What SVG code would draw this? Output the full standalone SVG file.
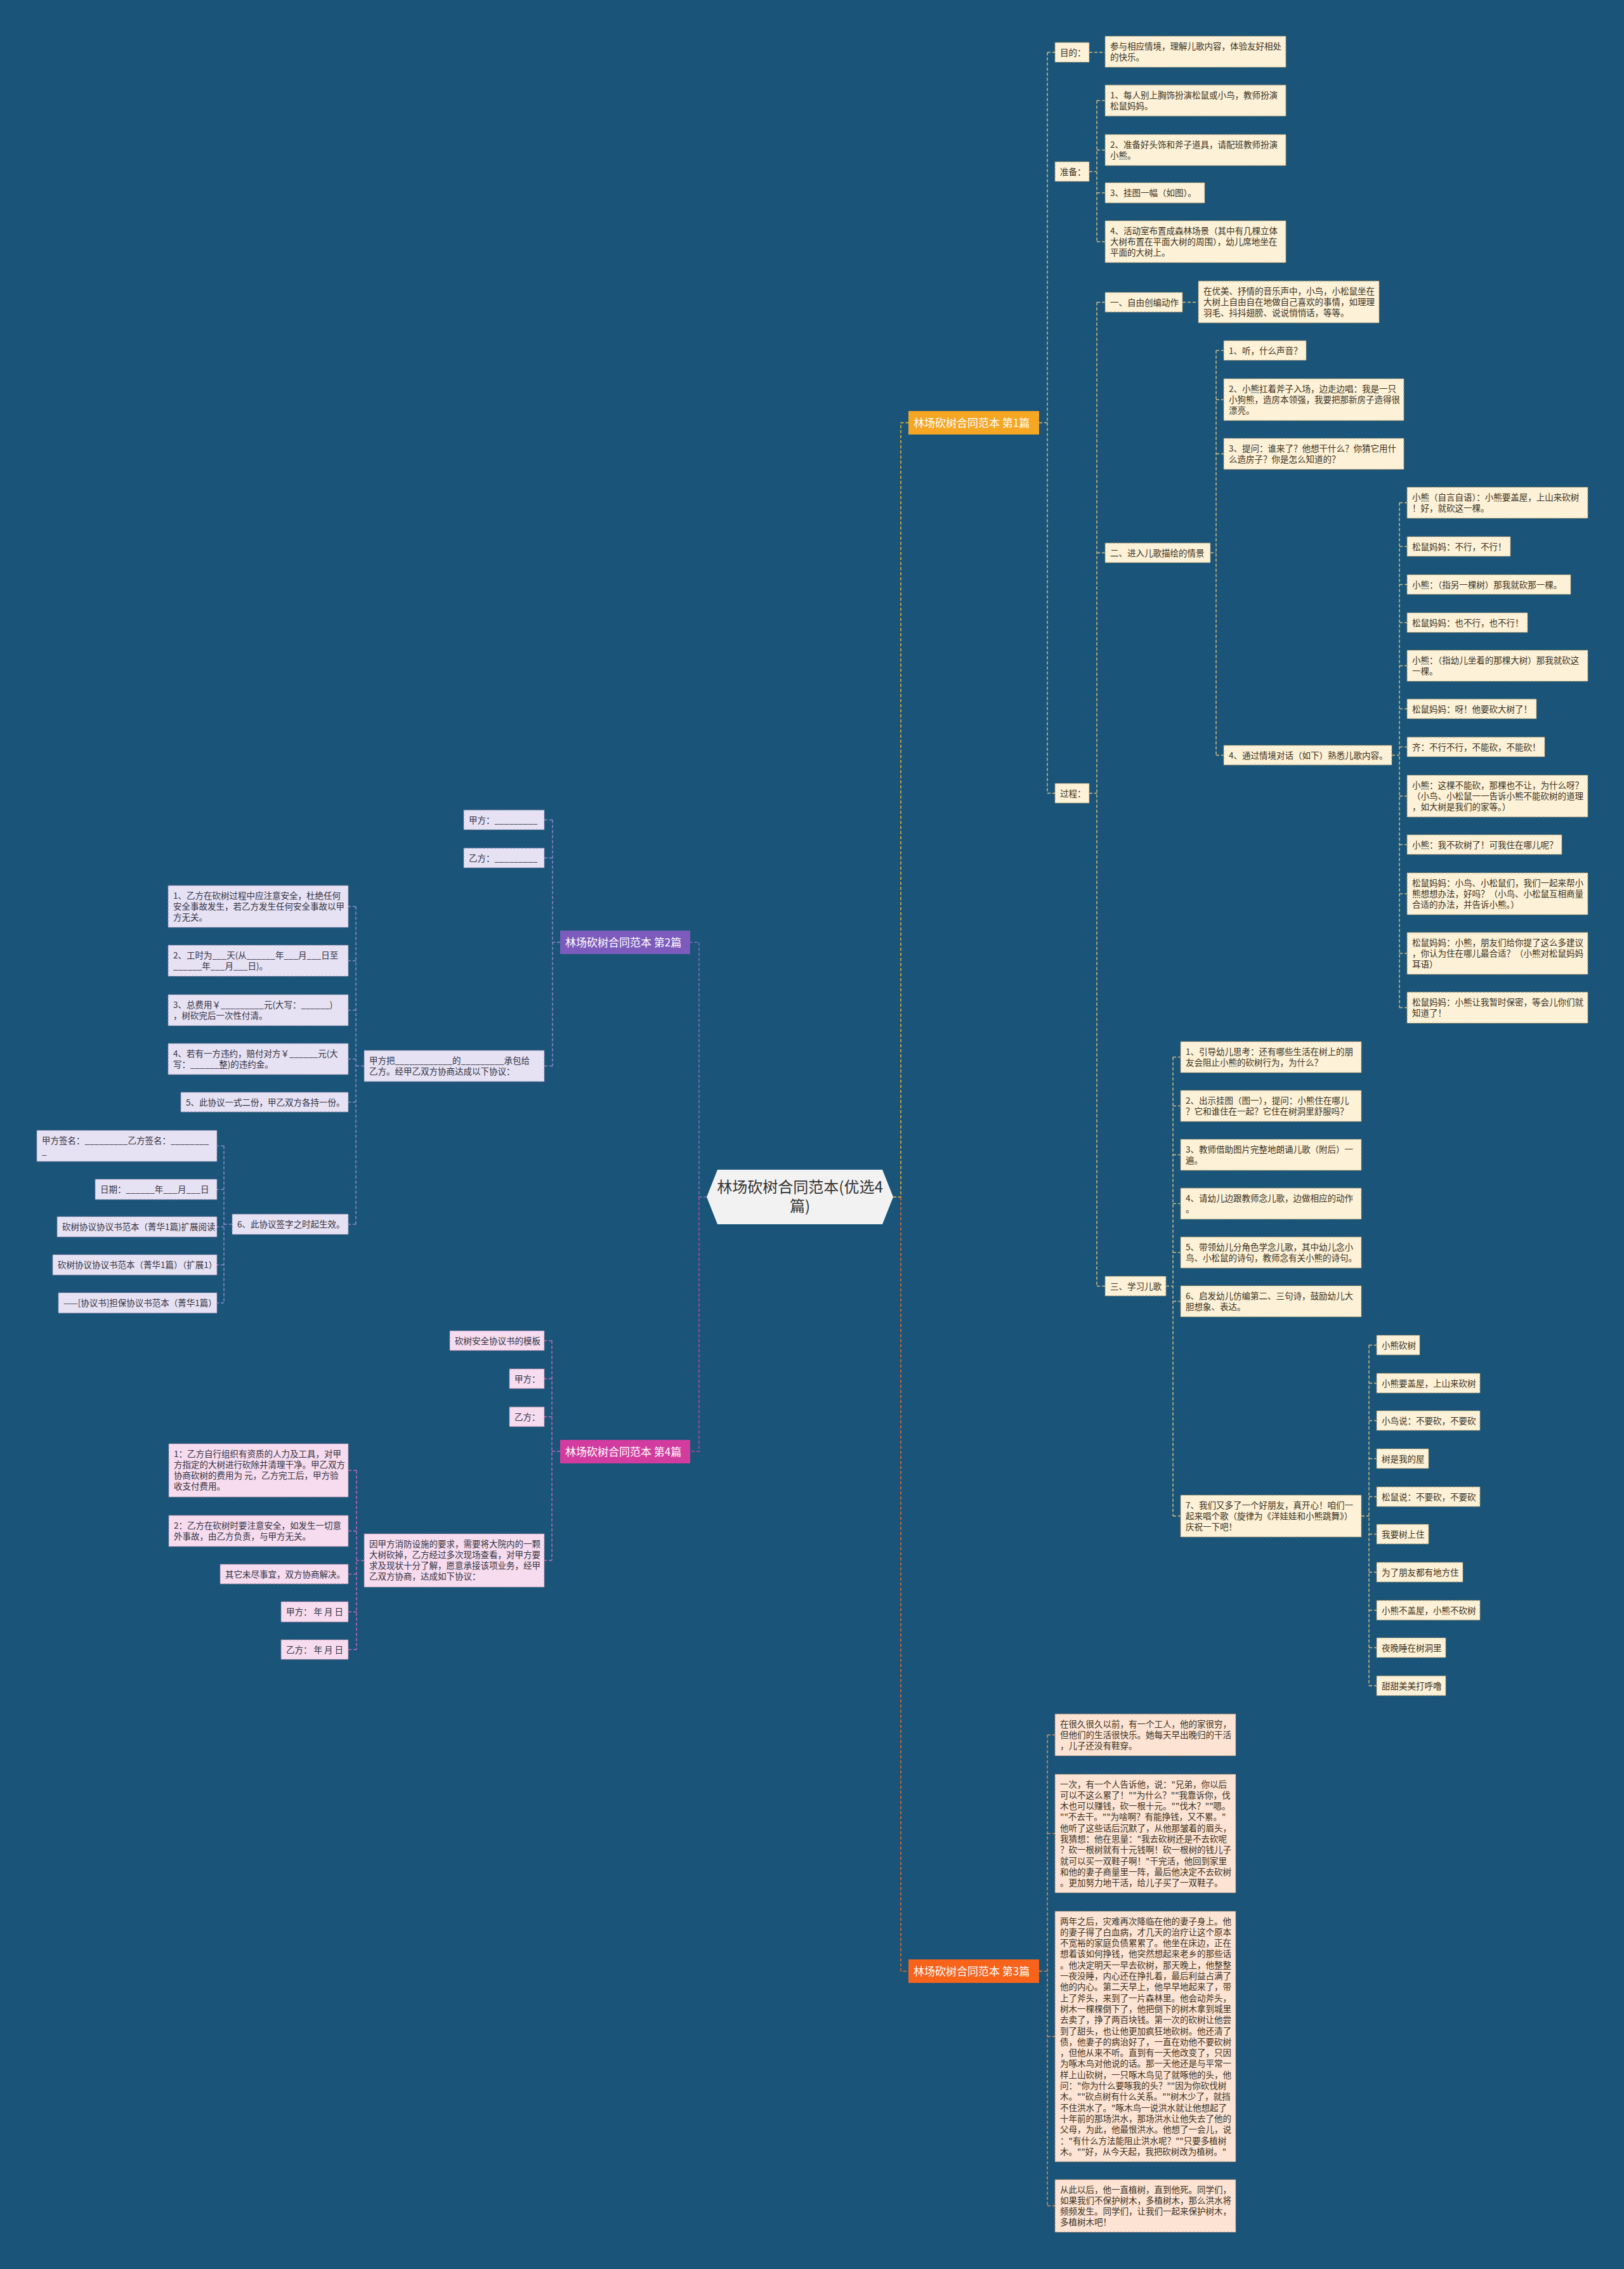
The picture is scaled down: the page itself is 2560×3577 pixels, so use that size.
<svg xmlns="http://www.w3.org/2000/svg" width="2560" height="3577" viewBox="0 0 2560 3577">
<style>
.t{font-family:"Noto Sans CJK SC","Liberation Sans",sans-serif;font-size:13.5px;fill:#3b3222}
.t2{font-family:"Noto Sans CJK SC","Liberation Sans",sans-serif;font-size:13.5px;fill:#333344}
.bt{font-family:"Noto Sans CJK SC","Liberation Sans",sans-serif;font-size:17px;fill:#ffffff}
.n1{fill:#fdf1d7;stroke:#9c8a62;stroke-width:1;stroke-dasharray:4 2}
.n3{fill:#fde3d3;stroke:#a07a66;stroke-width:1;stroke-dasharray:4 2}
.n2{fill:#e7e2f3;stroke:#8a84a8;stroke-width:1;stroke-dasharray:4 2}
.n4{fill:#f6dcee;stroke:#a07a9a;stroke-width:1;stroke-dasharray:4 2}
.c{fill:none;stroke-width:1.5;stroke-dasharray:5 3}
.c1{stroke:#d2bc84}
.c3{stroke:#d98c5c}
.c2{stroke:#9088cc}
.c4{stroke:#c06ab4}
</style>
<rect x="0" y="0" width="2560" height="3577" fill="#1a5478"/>

<g id="connectors">
  <path class="c" stroke="#f0b830" d="M1408,1887 H1420 V666.5 H1432"/>
  <path class="c" stroke="#f26a24" d="M1420,1887 V3107.5 H1432"/>
  <path class="c" stroke="#8a6cc8" d="M1114,1887 H1102 V1485.5 H1088"/>
  <path class="c" stroke="#d040a0" d="M1102,1887 V2288 H1088"/>
  <!-- branch 1 -->
  <g class="c c1">
    <path d="M1638,666.5 H1651 M1651,82.5 V1250.5 M1651,82.5 H1663 M1651,1250.5 H1663"/>
    <path d="M1717,82.5 H1742"/>
    <path d="M1717,270.5 H1729 M1729,158.5 V381 M1729,158.5 H1742 M1729,236.5 H1742 M1729,304 H1742 M1729,381 H1742"/>
    <path d="M1717,1250.5 H1729 M1729,476.5 V2027.5 M1729,476.5 H1742 M1729,871.5 H1742 M1729,2027.5 H1742"/>
    <path d="M1864,476.5 H1889"/>
    <path d="M1908,871.5 H1917 M1917,552.5 V1190.5 M1917,552.5 H1929 M1917,630 H1929 M1917,715.5 H1929 M1917,1190.5 H1929"/>
    <path d="M2194,1190.5 H2206 M2206,792.5 V1588.5 M2206,792.5 H2218 M2206,861.5 H2218 M2206,921.5 H2218 M2206,981.5 H2218 M2206,1049.5 H2218 M2206,1117.5 H2218 M2206,1177.5 H2218 M2206,1255 H2218 M2206,1331.5 H2218 M2206,1409 H2218 M2206,1503 H2218 M2206,1588.5 H2218"/>
    <path d="M1838,2027.5 H1849 M1849,1666.5 V2390 M1849,1666.5 H1861 M1849,1743.5 H1861 M1849,1820.5 H1861 M1849,1897.5 H1861 M1849,1974.5 H1861 M1849,2051.5 H1861 M1849,2390 H1861"/>
    <path d="M2146,2390 H2158 M2158,2120.5 V2657.5 M2158,2120.5 H2170 M2158,2180.5 H2170 M2158,2239.5 H2170 M2158,2299.5 H2170 M2158,2359.5 H2170 M2158,2418.5 H2170 M2158,2478.5 H2170 M2158,2538.5 H2170 M2158,2597.5 H2170 M2158,2657.5 H2170"/>
  </g>
  <!-- branch 3 -->
  <g class="c c3">
    <path d="M1638,3107.5 H1651 M1651,2735 V3477.5 M1651,2735 H1663 M1651,2890.5 H1663 M1651,3210.5 H1663 M1651,3477.5 H1663"/>
  </g>
  <!-- branch 2 -->
  <g class="c c2">
    <path d="M883,1485.5 H871 M871,1292.5 V1680.5 M871,1292.5 H858 M871,1352.5 H858 M871,1680.5 H858"/>
    <path d="M574,1680.5 H561 M561,1429 V1930 M561,1429 H549 M561,1514.5 H549 M561,1592.5 H549 M561,1669.5 H549 M561,1737.5 H549 M561,1930 H549"/>
    <path d="M366,1930 H353 M353,1806.5 V2054 M353,1806.5 H342 M353,1875 H342 M353,1934 H342 M353,1994 H342 M353,2054 H342"/>
  </g>
  <!-- branch 4 -->
  <g class="c c4">
    <path d="M883,2288 H870 M870,2113.5 V2460 M870,2113.5 H858 M870,2173.5 H858 M870,2233.5 H858 M870,2460 H858"/>
    <path d="M574,2460 H562 M562,2318 V2600.5 M562,2318 H549 M562,2413.5 H549 M562,2481.5 H549 M562,2541 H549 M562,2600.5 H549"/>
  </g>
</g>

<g id="root">
  <polygon points="1114,1887 1131,1844 1391,1844 1408,1887 1391,1930 1131,1930" fill="#f2f2f2"/>
  <text x="1261" y="1880" text-anchor="middle" font-family="Noto Sans CJK SC, Liberation Sans, sans-serif" font-size="24" fill="#333">林场砍树合同范本(优选4</text>
  <text x="1261" y="1910" text-anchor="middle" font-family="Noto Sans CJK SC, Liberation Sans, sans-serif" font-size="24" fill="#333">篇)</text>
</g>

<g id="b1"><rect x="1432" y="648" width="206" height="37" fill="#f5a623"/><text class="bt" x="1440" y="672.5">林场砍树合同范本 第1篇</text></g>
<g id="b3"><rect x="1432" y="3089" width="206" height="37" fill="#f7631b"/><text class="bt" x="1440" y="3113.5">林场砍树合同范本 第3篇</text></g>
<g id="b2"><rect x="883" y="1467" width="205" height="37" fill="#7d5bbd"/><text class="bt" x="891" y="1491.5">林场砍树合同范本 第2篇</text></g>
<g id="b4"><rect x="883" y="2270" width="205" height="37" fill="#d23c9e"/><text class="bt" x="891" y="2294.5">林场砍树合同范本 第4篇</text></g>

<!-- branch 1 nodes -->
<g id="mudi"><rect class="n1" x="1663" y="67" width="54" height="31"/><text class="t" x="1671" y="87.5">目的：</text></g>
<g id="mudi-t"><rect class="n1" x="1742" y="57" width="285" height="49"/><text class="t" x="1750" y="77.5"><tspan x="1750">参与相应情境，理解儿歌内容，体验友好相处</tspan><tspan x="1750" dy="17.3">的快乐。</tspan></text></g>
<g id="zhunbei"><rect class="n1" x="1663" y="255" width="54" height="31"/><text class="t" x="1671" y="275.5">准备：</text></g>
<g id="zb1"><rect class="n1" x="1742" y="134" width="285" height="49"/><text class="t" x="1750" y="154.5"><tspan x="1750">1、每人别上胸饰扮演松鼠或小鸟，教师扮演</tspan><tspan x="1750" dy="17.3">松鼠妈妈。</tspan></text></g>
<g id="zb2"><rect class="n1" x="1742" y="212" width="285" height="49"/><text class="t" x="1750" y="232.5"><tspan x="1750">2、准备好头饰和斧子道具，请配班教师扮演</tspan><tspan x="1750" dy="17.3">小熊。</tspan></text></g>
<g id="zb3"><rect class="n1" x="1742" y="288" width="157" height="32"/><text class="t" x="1750" y="308.5">3、挂图一幅（如图）。</text></g>
<g id="zb4"><rect class="n1" x="1742" y="348" width="285" height="66"/><text class="t" x="1750" y="368.5"><tspan x="1750">4、活动室布置成森林场景（其中有几棵立体</tspan><tspan x="1750" dy="17.3">大树布置在平面大树的周围），幼儿席地坐在</tspan><tspan x="1750" dy="17.3">平面的大树上。</tspan></text></g>
<g id="guocheng"><rect class="n1" x="1663" y="1235" width="54" height="31"/><text class="t" x="1671" y="1255.5">过程：</text></g>
<g id="gc1"><rect class="n1" x="1742" y="461" width="122" height="31"/><text class="t" x="1750" y="481.5">一、自由创编动作</text></g>
<g id="gc1-t"><rect class="n1" x="1889" y="443" width="285" height="66"/><text class="t" x="1897" y="463.5"><tspan x="1897">在优美、抒情的音乐声中，小鸟，小松鼠坐在</tspan><tspan x="1897" dy="17.3">大树上自由自在地做自己喜欢的事情，如理理</tspan><tspan x="1897" dy="17.3">羽毛、抖抖翅膀、说说悄悄话，等等。</tspan></text></g>
<g id="gc2"><rect class="n1" x="1742" y="856" width="166" height="31"/><text class="t" x="1750" y="876.5">二、进入儿歌描绘的情景</text></g>
<g id="gc2-1"><rect class="n1" x="1929" y="537" width="130" height="31"/><text class="t" x="1937" y="557.5">1、听，什么声音？</text></g>
<g id="gc2-2"><rect class="n1" x="1929" y="597" width="284" height="66"/><text class="t" x="1937" y="617.5"><tspan x="1937">2、小熊扛着斧子入场，边走边唱：我是一只</tspan><tspan x="1937" dy="17.3">小狗熊，造房本领强，我要把那新房子造得很</tspan><tspan x="1937" dy="17.3">漂亮。</tspan></text></g>
<g id="gc2-3"><rect class="n1" x="1929" y="691" width="284" height="49"/><text class="t" x="1937" y="711.5"><tspan x="1937">3、提问：谁来了？他想干什么？你猜它用什</tspan><tspan x="1937" dy="17.3">么造房子？你是怎么知道的？</tspan></text></g>
<g id="gc2-4"><rect class="n1" x="1929" y="1175" width="265" height="31"/><text class="t" x="1937" y="1195.5">4、通过情境对话（如下）熟悉儿歌内容。</text></g>

<g id="d1"><rect class="n1" x="2218" y="768" width="285" height="49"/><text class="t" x="2226" y="788.5"><tspan x="2226">小熊（自言自语）：小熊要盖屋，上山来砍树</tspan><tspan x="2226" dy="17.3">！好，就砍这一棵。</tspan></text></g>
<g id="d2"><rect class="n1" x="2218" y="846" width="163" height="31"/><text class="t" x="2226" y="866.5">松鼠妈妈：不行，不行！</text></g>
<g id="d3"><rect class="n1" x="2218" y="906" width="258" height="31"/><text class="t" x="2226" y="926.5">小熊：（指另一棵树）那我就砍那一棵。</text></g>
<g id="d4"><rect class="n1" x="2218" y="966" width="190" height="31"/><text class="t" x="2226" y="986.5">松鼠妈妈：也不行，也不行！</text></g>
<g id="d5"><rect class="n1" x="2218" y="1025" width="285" height="49"/><text class="t" x="2226" y="1045.5"><tspan x="2226">小熊：（指幼儿坐着的那棵大树）那我就砍这</tspan><tspan x="2226" dy="17.3">一棵。</tspan></text></g>
<g id="d6"><rect class="n1" x="2218" y="1102" width="204" height="31"/><text class="t" x="2226" y="1122.5">松鼠妈妈：呀！他要砍大树了！</text></g>
<g id="d7"><rect class="n1" x="2218" y="1162" width="217" height="31"/><text class="t" x="2226" y="1182.5">齐：不行不行，不能砍，不能砍！</text></g>
<g id="d8"><rect class="n1" x="2218" y="1222" width="285" height="66"/><text class="t" x="2226" y="1242.5"><tspan x="2226">小熊：这棵不能砍，那棵也不让，为什么呀？</tspan><tspan x="2226" dy="17.3">（小鸟、小松鼠一一告诉小熊不能砍树的道理</tspan><tspan x="2226" dy="17.3">，如大树是我们的家等。）</tspan></text></g>
<g id="d9"><rect class="n1" x="2218" y="1316" width="244" height="31"/><text class="t" x="2226" y="1336.5">小熊：我不砍树了！可我住在哪儿呢？</text></g>
<g id="d10"><rect class="n1" x="2218" y="1376" width="285" height="66"/><text class="t" x="2226" y="1396.5"><tspan x="2226">松鼠妈妈：小鸟、小松鼠们，我们一起来帮小</tspan><tspan x="2226" dy="17.3">熊想想办法，好吗？（小鸟、小松鼠互相商量</tspan><tspan x="2226" dy="17.3">合适的办法，并告诉小熊。）</tspan></text></g>
<g id="d11"><rect class="n1" x="2218" y="1470" width="285" height="66"/><text class="t" x="2226" y="1490.5"><tspan x="2226">松鼠妈妈：小熊，朋友们给你提了这么多建议</tspan><tspan x="2226" dy="17.3">，你认为住在哪儿最合适？（小熊对松鼠妈妈</tspan><tspan x="2226" dy="17.3">耳语）</tspan></text></g>
<g id="d12"><rect class="n1" x="2218" y="1564" width="285" height="49"/><text class="t" x="2226" y="1584.5"><tspan x="2226">松鼠妈妈：小熊让我暂时保密，等会儿你们就</tspan><tspan x="2226" dy="17.3">知道了！</tspan></text></g>

<g id="gc3"><rect class="n1" x="1742" y="2012" width="96" height="31"/><text class="t" x="1750" y="2032.5">三、学习儿歌</text></g>
<g id="gc3-1"><rect class="n1" x="1861" y="1642" width="285" height="49"/><text class="t" x="1869" y="1662.5"><tspan x="1869">1、引导幼儿思考：还有哪些生活在树上的朋</tspan><tspan x="1869" dy="17.3">友会阻止小熊的砍树行为，为什么？</tspan></text></g>
<g id="gc3-2"><rect class="n1" x="1861" y="1719" width="285" height="49"/><text class="t" x="1869" y="1739.5"><tspan x="1869">2、出示挂图（图一），提问：小熊住在哪儿</tspan><tspan x="1869" dy="17.3">？它和谁住在一起？它住在树洞里舒服吗？</tspan></text></g>
<g id="gc3-3"><rect class="n1" x="1861" y="1796" width="285" height="49"/><text class="t" x="1869" y="1816.5"><tspan x="1869">3、教师借助图片完整地朗诵儿歌（附后）一</tspan><tspan x="1869" dy="17.3">遍。</tspan></text></g>
<g id="gc3-4"><rect class="n1" x="1861" y="1873" width="285" height="49"/><text class="t" x="1869" y="1893.5"><tspan x="1869">4、请幼儿边跟教师念儿歌，边做相应的动作</tspan><tspan x="1869" dy="17.3">。</tspan></text></g>
<g id="gc3-5"><rect class="n1" x="1861" y="1950" width="285" height="49"/><text class="t" x="1869" y="1970.5"><tspan x="1869">5、带领幼儿分角色学念儿歌，其中幼儿念小</tspan><tspan x="1869" dy="17.3">鸟、小松鼠的诗句，教师念有关小熊的诗句。</tspan></text></g>
<g id="gc3-6"><rect class="n1" x="1861" y="2027" width="285" height="49"/><text class="t" x="1869" y="2047.5"><tspan x="1869">6、启发幼儿仿编第二、三句诗，鼓励幼儿大</tspan><tspan x="1869" dy="17.3">胆想象、表达。</tspan></text></g>
<g id="gc3-7"><rect class="n1" x="1861" y="2357" width="285" height="66"/><text class="t" x="1869" y="2377.5"><tspan x="1869">7、我们又多了一个好朋友，真开心！咱们一</tspan><tspan x="1869" dy="17.3">起来唱个歌（旋律为《洋娃娃和小熊跳舞》）</tspan><tspan x="1869" dy="17.3">庆祝一下吧！</tspan></text></g>

<g id="s1"><rect class="n1" x="2170" y="2105" width="68" height="31"/><text class="t" x="2178" y="2125.5">小熊砍树</text></g>
<g id="s2"><rect class="n1" x="2170" y="2165" width="163" height="31"/><text class="t" x="2178" y="2185.5">小熊要盖屋，上山来砍树</text></g>
<g id="s3"><rect class="n1" x="2170" y="2224" width="163" height="31"/><text class="t" x="2178" y="2244.5">小鸟说：不要砍，不要砍</text></g>
<g id="s4"><rect class="n1" x="2170" y="2284" width="82" height="31"/><text class="t" x="2178" y="2304.5">树是我的屋</text></g>
<g id="s5"><rect class="n1" x="2170" y="2344" width="163" height="31"/><text class="t" x="2178" y="2364.5">松鼠说：不要砍，不要砍</text></g>
<g id="s6"><rect class="n1" x="2170" y="2403" width="82" height="31"/><text class="t" x="2178" y="2423.5">我要树上住</text></g>
<g id="s7"><rect class="n1" x="2170" y="2463" width="136" height="31"/><text class="t" x="2178" y="2483.5">为了朋友都有地方住</text></g>
<g id="s8"><rect class="n1" x="2170" y="2523" width="163" height="31"/><text class="t" x="2178" y="2543.5">小熊不盖屋，小熊不砍树</text></g>
<g id="s9"><rect class="n1" x="2170" y="2582" width="109" height="31"/><text class="t" x="2178" y="2602.5">夜晚睡在树洞里</text></g>
<g id="s10"><rect class="n1" x="2170" y="2642" width="109" height="31"/><text class="t" x="2178" y="2662.5">甜甜美美打呼噜</text></g>

<!-- branch 3 nodes -->
<g id="e1"><rect class="n3" x="1663" y="2702" width="285" height="66"/><text class="t" x="1671" y="2722.5"><tspan x="1671">在很久很久以前，有一个工人，他的家很穷，</tspan><tspan x="1671" dy="17.3">但他们的生活很快乐。她每天早出晚归的干活</tspan><tspan x="1671" dy="17.3">，儿子还没有鞋穿。</tspan></text></g>
<g id="e2"><rect class="n3" x="1663" y="2797" width="285" height="187"/><text class="t" x="1671" y="2817.5"><tspan x="1671">一次，有一个人告诉他，说："兄弟，你以后</tspan><tspan x="1671" dy="17.3">可以不这么累了！""为什么？""我靠诉你，伐</tspan><tspan x="1671" dy="17.3">木也可以赚钱，砍一根十元。""伐木？""嗯。</tspan><tspan x="1671" dy="17.3">""不去干。""为啥啊？有能挣钱，又不累。"</tspan><tspan x="1671" dy="17.3">他听了这些话后沉默了，从他那皱着的眉头，</tspan><tspan x="1671" dy="17.3">我猜想：他在思量："我去砍树还是不去砍呢</tspan><tspan x="1671" dy="17.3">？砍一根树就有十元钱啊！砍一根树的钱儿子</tspan><tspan x="1671" dy="17.3">就可以买一双鞋子啊！"干完活，他回到家里</tspan><tspan x="1671" dy="17.3">和他的妻子商量里一阵，最后他决定不去砍树</tspan><tspan x="1671" dy="17.3">。更加努力地干活，给儿子买了一双鞋子。</tspan></text></g>
<g id="e3"><rect class="n3" x="1663" y="3013" width="285" height="395"/><text class="t" x="1671" y="3033.5"><tspan x="1671">两年之后，灾难再次降临在他的妻子身上。他</tspan><tspan x="1671" dy="17.3">的妻子得了白血病，才几天的治疗让这个原本</tspan><tspan x="1671" dy="17.3">不宽裕的家庭负债累累了。他坐在床边，正在</tspan><tspan x="1671" dy="17.3">想着该如何挣钱，他突然想起来老乡的那些话</tspan><tspan x="1671" dy="17.3">。他决定明天一早去砍树，那天晚上，他整整</tspan><tspan x="1671" dy="17.3">一夜没睡，内心还在挣扎着，最后利益占满了</tspan><tspan x="1671" dy="17.3">他的内心。第二天早上，他早早地起来了，带</tspan><tspan x="1671" dy="17.3">上了斧头，来到了一片森林里。他会动斧头，</tspan><tspan x="1671" dy="17.3">树木一棵棵倒下了，他把倒下的树木拿到城里</tspan><tspan x="1671" dy="17.3">去卖了，挣了两百块钱。第一次的砍树让他尝</tspan><tspan x="1671" dy="17.3">到了甜头，也让他更加疯狂地砍树。他还清了</tspan><tspan x="1671" dy="17.3">债，他妻子的病治好了，一直在劝他不要砍树</tspan><tspan x="1671" dy="17.3">，但他从来不听。直到有一天他改变了，只因</tspan><tspan x="1671" dy="17.3">为啄木鸟对他说的话。那一天他还是与平常一</tspan><tspan x="1671" dy="17.3">样上山砍树，一只啄木鸟见了就啄他的头，他</tspan><tspan x="1671" dy="17.3">问："你为什么要啄我的头？""因为你砍伐树</tspan><tspan x="1671" dy="17.3">木。""砍点树有什么关系。""树木少了，就挡</tspan><tspan x="1671" dy="17.3">不住洪水了。"啄木鸟一说洪水就让他想起了</tspan><tspan x="1671" dy="17.3">十年前的那场洪水，那场洪水让他失去了他的</tspan><tspan x="1671" dy="17.3">父母，为此，他最恨洪水。他想了一会儿，说</tspan><tspan x="1671" dy="17.3">："有什么方法能阻止洪水呢？""只要多植树</tspan><tspan x="1671" dy="17.3">木。""好，从今天起，我把砍树改为植树。"</tspan></text></g>
<g id="e4"><rect class="n3" x="1663" y="3436" width="285" height="83"/><text class="t" x="1671" y="3456.5"><tspan x="1671">从此以后，他一直植树，直到他死。同学们，</tspan><tspan x="1671" dy="17.3">如果我们不保护树木，多植树木，那么洪水将</tspan><tspan x="1671" dy="17.3">频频发生。同学们，让我们一起来保护树木，</tspan><tspan x="1671" dy="17.3">多植树木吧！</tspan></text></g>

<!-- branch 2 nodes -->
<g id="f1"><rect class="n2" x="731" y="1277" width="127" height="31"/><text class="t2" x="739" y="1297.5">甲方：_________</text></g>
<g id="f2"><rect class="n2" x="731" y="1337" width="127" height="31"/><text class="t2" x="739" y="1357.5">乙方：_________</text></g>
<g id="f3"><rect class="n2" x="574" y="1656" width="284" height="49"/><text class="t2" x="582" y="1676.5"><tspan x="582">甲方把____________的_________承包给</tspan><tspan x="582" dy="17.3">乙方。经甲乙双方协商达成以下协议：</tspan></text></g>
<g id="g1"><rect class="n2" x="265" y="1396" width="284" height="66"/><text class="t2" x="273" y="1416.5"><tspan x="273">1、乙方在砍树过程中应注意安全，杜绝任何</tspan><tspan x="273" dy="17.3">安全事故发生，若乙方发生任何安全事故以甲</tspan><tspan x="273" dy="17.3">方无关。</tspan></text></g>
<g id="g2"><rect class="n2" x="265" y="1490" width="284" height="49"/><text class="t2" x="273" y="1510.5"><tspan x="273">2、工时为___天(从______年___月___日至</tspan><tspan x="273" dy="17.3">______年___月___日)。</tspan></text></g>
<g id="g3"><rect class="n2" x="265" y="1568" width="284" height="49"/><text class="t2" x="273" y="1588.5"><tspan x="273">3、总费用￥_________元(大写：______)</tspan><tspan x="273" dy="17.3">，树砍完后一次性付清。</tspan></text></g>
<g id="g4"><rect class="n2" x="265" y="1645" width="284" height="49"/><text class="t2" x="273" y="1665.5"><tspan x="273">4、若有一方违约，赔付对方￥______元(大</tspan><tspan x="273" dy="17.3">写：______整)的违约金。</tspan></text></g>
<g id="g5"><rect class="n2" x="285" y="1722" width="264" height="31"/><text class="t2" x="293" y="1742.5">5、此协议一式二份，甲乙双方各持一份。</text></g>
<g id="g6"><rect class="n2" x="366" y="1914" width="183" height="32"/><text class="t2" x="374" y="1935">6、此协议签字之时起生效。</text></g>
<g id="h1"><rect class="n2" x="58" y="1782" width="284" height="49"/><text class="t2" x="66" y="1802.5"><tspan x="66">甲方签名：_________乙方签名：________</tspan><tspan x="66" dy="17.3">_</tspan></text></g>
<g id="h2"><rect class="n2" x="150" y="1859" width="192" height="32"/><text class="t2" x="158" y="1880">日期：______年___月___日</text></g>
<g id="h3"><rect class="n2" x="90" y="1918" width="252" height="32"/><text class="t2" x="98" y="1939">砍树协议协议书范本（菁华1篇)扩展阅读</text></g>
<g id="h4"><rect class="n2" x="83" y="1978" width="259" height="32"/><text class="t2" x="91" y="1999">砍树协议协议书范本（菁华1篇）（扩展1）</text></g>
<g id="h5"><rect class="n2" x="92" y="2038" width="250" height="32"/><text class="t2" x="100" y="2059">——[协议书]担保协议书范本（菁华1篇）</text></g>

<!-- branch 4 nodes -->
<g id="k1"><rect class="n4" x="709" y="2098" width="149" height="31"/><text class="t2" x="717" y="2118.5">砍树安全协议书的模板</text></g>
<g id="k2"><rect class="n4" x="803" y="2158" width="55" height="31"/><text class="t2" x="811" y="2178.5">甲方：</text></g>
<g id="k3"><rect class="n4" x="803" y="2218" width="55" height="31"/><text class="t2" x="811" y="2238.5">乙方：</text></g>
<g id="k4"><rect class="n4" x="574" y="2418" width="284" height="84"/><text class="t2" x="582" y="2438.5"><tspan x="582">因甲方消防设施的要求，需要将大院内的一颗</tspan><tspan x="582" dy="17.3">大树砍掉，乙方经过多次现场查看，对甲方要</tspan><tspan x="582" dy="17.3">求及现状十分了解，愿意承接该项业务，经甲</tspan><tspan x="582" dy="17.3">乙双方协商，达成如下协议：</tspan></text></g>
<g id="m1"><rect class="n4" x="266" y="2276" width="283" height="84"/><text class="t2" x="274" y="2296.5"><tspan x="274">1：乙方自行组织有资质的人力及工具，对甲</tspan><tspan x="274" dy="17.3">方指定的大树进行砍除并清理干净。甲乙双方</tspan><tspan x="274" dy="17.3">协商砍树的费用为 元，乙方完工后，甲方验</tspan><tspan x="274" dy="17.3">收支付费用。</tspan></text></g>
<g id="m2"><rect class="n4" x="266" y="2389" width="283" height="49"/><text class="t2" x="274" y="2409.5"><tspan x="274">2：乙方在砍树时要注意安全，如发生一切意</tspan><tspan x="274" dy="17.3">外事故，由乙方负责，与甲方无关。</tspan></text></g>
<g id="m3"><rect class="n4" x="347" y="2466" width="202" height="31"/><text class="t2" x="355" y="2486.5">其它未尽事宜，双方协商解决。</text></g>
<g id="m4"><rect class="n4" x="443" y="2525" width="106" height="32"/><text class="t2" x="451" y="2546">甲方： 年 月 日</text></g>
<g id="m5"><rect class="n4" x="443" y="2585" width="106" height="31"/><text class="t2" x="451" y="2605.5">乙方： 年 月 日</text></g>
</svg>
